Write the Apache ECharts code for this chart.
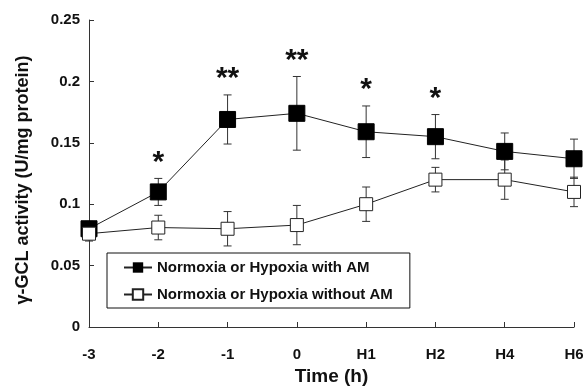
<!DOCTYPE html>
<html><head><meta charset="utf-8">
<script src="https://cdn.jsdelivr.net/npm/echarts@6/dist/echarts.min.js"></script>
<style>html,body{margin:0;padding:0;background:#fff}#c{width:586px;height:386px}</style>
</head><body><div id="c"></div>
<script>
const categories = ['-3','-2','-1','0','H1','H2','H4','H6'];
const withAM = [0.080, 0.110, 0.169, 0.174, 0.159, 0.155, 0.143, 0.137];
const withAMErr = [0.006, 0.011, 0.020, 0.030, 0.021, 0.018, 0.015, 0.016];
const withoutAM = [0.076, 0.081, 0.080, 0.083, 0.100, 0.120, 0.120, 0.110];
const withoutAMErr = [0.006, 0.010, 0.014, 0.016, 0.014, 0.010, 0.016, 0.012];
const stars = ['', '*', '**', '**', '*', '*', '', ''];
const yTicks = [0, 0.05, 0.1, 0.15, 0.2, 0.25];
const seriesNames = ['Normoxia or Hypoxia with AM', 'Normoxia or Hypoxia without AM'];

const font = 'Arial, "Liberation Sans", sans-serif';
const chart = echarts.init(document.getElementById('c'), null, {renderer: 'canvas'});

function errData(vals, errs, marks) {
  return vals.map((v, i) => [i, v - errs[i], v + errs[i], marks ? marks[i] : '']);
}
function errRender(params, api) {
  const x = api.value(0);
  const lo = api.coord([x, api.value(1)]);
  const hi = api.coord([x, api.value(2)]);
  const cap = 4;
  const st = {stroke: '#333', lineWidth: 1};
  const children = [
    {type: 'line', shape: {x1: lo[0], y1: lo[1], x2: hi[0], y2: hi[1]}, style: st},
    {type: 'line', shape: {x1: lo[0]-cap, y1: lo[1], x2: lo[0]+cap, y2: lo[1]}, style: st},
    {type: 'line', shape: {x1: hi[0]-cap, y1: hi[1], x2: hi[0]+cap, y2: hi[1]}, style: st}
  ];
  const m = api.value(3);
  if (m) {
    children.push({type: 'text', x: hi[0], y: hi[1] - 16,
      style: {text: m, font: 'bold 30px ' + font, fill: '#111', align: 'center', verticalAlign: 'middle'}});
  }
  return {type: 'group', children};
}

chart.setOption({
  animation: false,
  grid: {left: 89, right: 12, top: 20, bottom: 59, outerBoundsMode: 'none'},
  legend: {
    left: 107, top: 253, orient: 'vertical',
    data: seriesNames,
    borderColor: '#111', borderWidth: 1,
    padding: [7, 17, 6, 16],
    itemWidth: 28, itemHeight: 13, itemGap: 12,
    textStyle: {fontFamily: font, fontWeight: 'bold', fontSize: 15, color: '#111'}
  },
  xAxis: {
    type: 'category', data: categories, boundaryGap: false,
    axisLine: {lineStyle: {color: '#333'}},
    axisTick: {inside: true, length: 5, alignWithLabel: true, lineStyle: {color: '#333'}},
    axisLabel: {fontFamily: font, fontWeight: 'bold', fontSize: 15, color: '#111', margin: 20, interval: 0},
    name: 'Time (h)', nameLocation: 'middle', nameGap: 35,
    nameTextStyle: {fontFamily: font, fontWeight: 'bold', fontSize: 19, color: '#111', verticalAlign: 'top'}
  },
  yAxis: {
    type: 'value', min: yTicks[0], max: yTicks[yTicks.length-1], interval: 0.05,
    splitLine: {show: false},
    axisLine: {show: true, lineStyle: {color: '#333'}},
    axisTick: {show: true, inside: true, length: 5, lineStyle: {color: '#333'}},
    axisLabel: {fontFamily: font, fontWeight: 'bold', fontSize: 15, color: '#111', margin: 9},
    name: 'γ-GCL activity (U/mg protein)', nameLocation: 'middle', nameGap: 57, nameRotate: 90,
    nameTextStyle: {fontFamily: font, fontWeight: 'bold', fontSize: 18, color: '#111', padding: [0, 13, 0, 0]}
  },
  series: [
    {type: 'custom', renderItem: errRender, data: errData(withAM, withAMErr, stars), z: 1, silent: true},
    {type: 'custom', renderItem: errRender, data: errData(withoutAM, withoutAMErr, null), z: 1, silent: true},
    {name: seriesNames[0], type: 'line', data: withAM, symbol: 'rect', symbolSize: 16, z: 3,
     lineStyle: {color: '#222', width: 1}, itemStyle: {color: '#000', borderColor: '#000'}},
    {name: seriesNames[1], type: 'line', data: withoutAM, symbol: 'rect', symbolSize: 13, z: 3,
     lineStyle: {color: '#222', width: 1}, itemStyle: {color: '#fff', borderColor: '#222', borderWidth: 1}}
  ]
});
</script></body></html>
